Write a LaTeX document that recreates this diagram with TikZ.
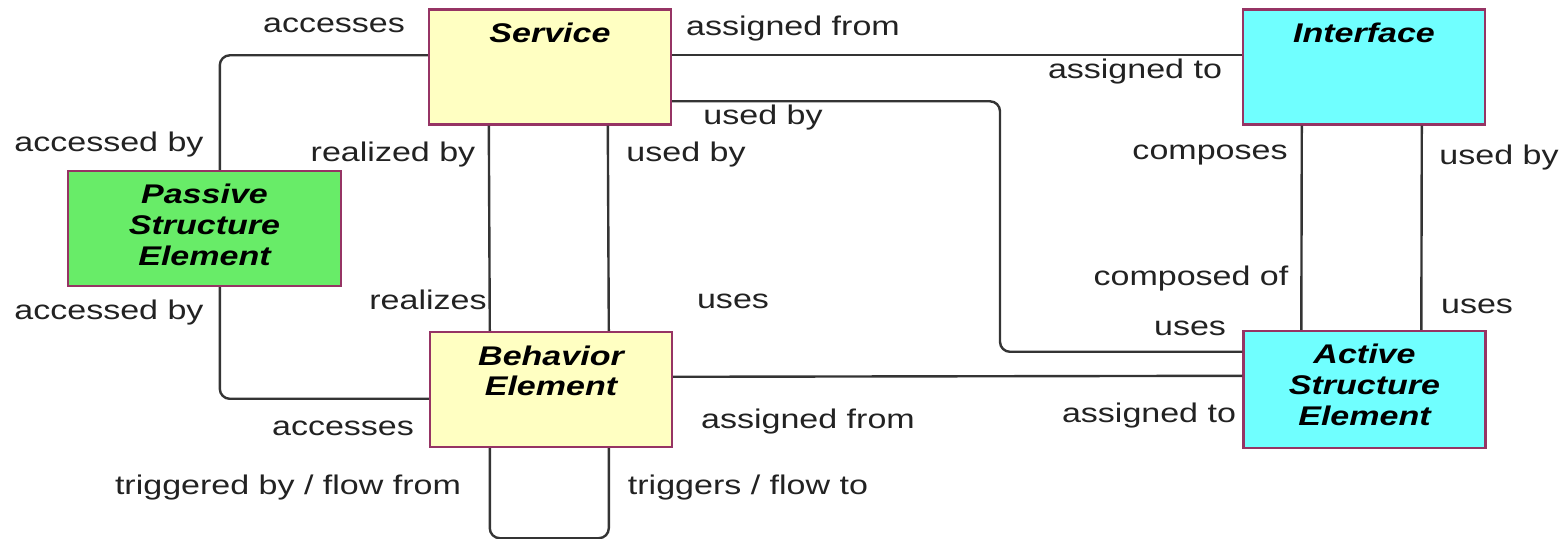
\documentclass[tikz,border=0pt]{standalone}
\usepackage{fontspec}
\setmainfont{Liberation Sans}[FakeStretch=1.26]
\usetikzlibrary{calc}

\definecolor{svcyellow}{RGB}{255,255,194}
\definecolor{passgreen}{RGB}{104,236,104}
\definecolor{actcyan}{RGB}{112,255,255}
\definecolor{boxedge}{RGB}{150,52,100}
\definecolor{wire}{RGB}{52,52,52}
\definecolor{labelgray}{RGB}{34,34,34}

\begin{document}
\begin{tikzpicture}[x=0.5pt,y=-0.5pt,
  elbox/.style={draw=boxedge, line width=1.2pt, inner sep=0pt, text width=121pt, align=center,
    text height=16.5pt, text depth=41pt, font=\fontsize{13.5}{15.5}\selectfont\bfseries\itshape},
  rel/.style={draw=wire, line width=1.2pt, rounded corners=5pt},
  lbl/.style={inner sep=0pt, font=\fontsize{13.5}{15.5}\selectfont, text=labelgray}]
\useasboundingbox (0,0) rectangle (1568,539);

%Boxes
\node [elbox, fill=svcyellow] (srv) at (550,67) {Service};
\node [elbox, fill=actcyan] (itf) at (1364,67) {Interface};
\node [elbox, fill=passgreen, text width=136.5pt] (pas) at (204.5,228.5) {Passive\\Structure\\Element};
\node [elbox, fill=svcyellow] (beh) at (551,389.5) {Behavior\\Element};
\node [elbox, fill=actcyan, text depth=42pt] (act) at (1364.5,389.5) {Active\\Structure\\Element};
\coordinate (ub) at (1000,230);

%Lines
\draw [rel] ($(srv.north west)+(0,47)$) -| ($(pas.north west)+(153,0)$);
\draw [rel] ($(pas.south west)+(153,0)$) |- ($(beh.north west)+(0,68)$);
\draw [rel] ($(srv.north east)+(0,47)$) -- ($(itf.north west)+(0,47)$);
\draw [rel] ($(srv.north east)+(0,93)$) -| (ub) |- ($(act.north west)+(0,22)$);
\draw [rel] ($(beh.north east)+(0,46)$) -- ($(act.north west)+(0,46)$);
\draw [rel] ($(srv.south west)+(61,0)$) -- ($(beh.north west)+(61,0)$);
\draw [rel] ($(srv.south west)+(180,0)$) -- ($(beh.north west)+(180,0)$);
\draw [rel] ($(itf.south west)+(60,0)$) -- ($(act.north west)+(59,0)$);
\draw [rel] ($(itf.south west)+(180,0)$) -- ($(act.north west)+(179,0)$);
\draw [rel] ($(beh.south west)+(61,0)$) -- ++(0,90) -| ($(beh.south west)+(180,0)$);

% Text Node
\node [lbl] (t1) at (334,25) {accesses};
\node [lbl] (t2) at (793,29) {assigned from};
\node [lbl] (t3) at (1135,72) {assigned to};
\node [lbl] (t4) at (109,145) {accessed by};
\node [lbl] (t5) at (393,155) {realized by};
\node [lbl] (t6) at (763,118) {used by};
\node [lbl] (t7) at (686,155) {used by};
\node [lbl] (t8) at (1210,155) {composes};
\node [lbl] (t9) at (1499,158) {used by};
\node [lbl] (t10) at (1191,279) {composed of};
\node [lbl] (t11) at (109,313) {accessed by};
\node [lbl] (t12) at (428,300) {realizes};
\node [lbl] (t13) at (733,301) {uses};
\node [lbl] (t14) at (1477,306) {uses};
\node [lbl] (t15) at (1190,328) {uses};
\node [lbl] (t16) at (343,428) {accesses};
\node [lbl] (t17) at (808,422) {assigned from};
\node [lbl] (t18) at (1149,416) {assigned to};
\node [lbl] (t19) at (288,488) {triggered by / flow from};
\node [lbl] (t20) at (748,488) {triggers / flow to};

\end{tikzpicture}
\end{document}
